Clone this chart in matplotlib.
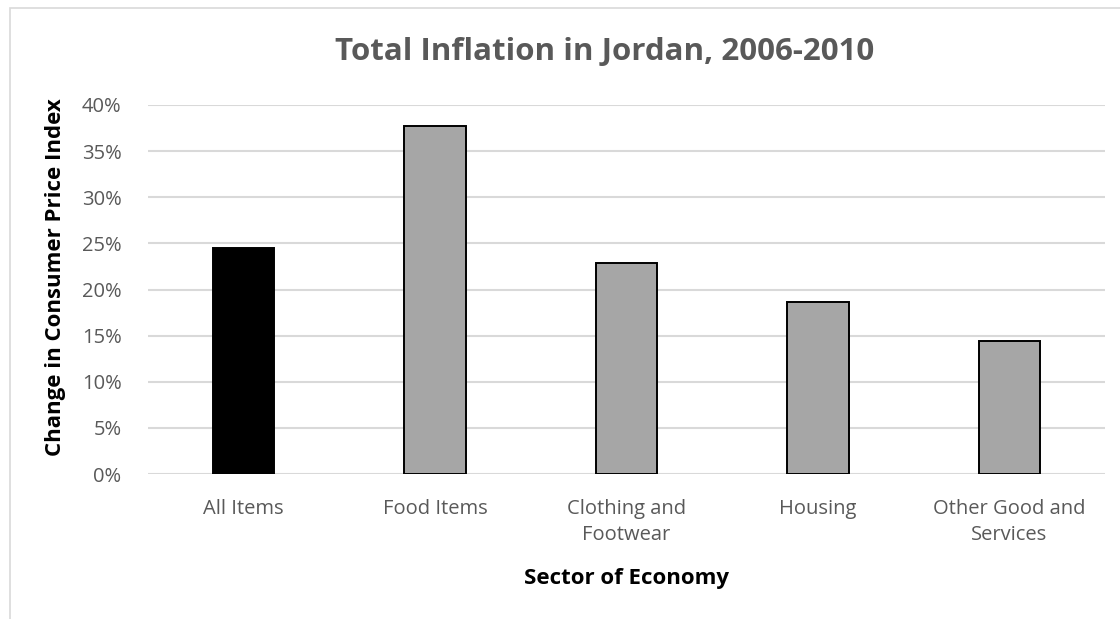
import matplotlib.pyplot as plt
from matplotlib.patches import Rectangle
from matplotlib.ticker import PercentFormatter

plt.rcParams['font.family'] = ['Open Sans', 'DejaVu Sans']

# data
sectors = ['All Items', 'Food Items', 'Clothing and\nFootwear', 'Housing',
           'Other Good and\nServices']
inflation = [24.5, 37.7, 22.9, 18.6, 14.4]
bar_colors = ['#000000', '#A6A6A6', '#A6A6A6', '#A6A6A6', '#A6A6A6']
yticks = [0, 5, 10, 15, 20, 25, 30, 35, 40]

fig = plt.figure(figsize=(11.2, 6.19), dpi=100)
ax = fig.add_axes([148 / 1120, 1 - 474 / 619, (1105 - 148) / 1120, (474 - 105) / 619])

# chart frame (cut off at right/bottom like the screenshot)
fig.patches.append(Rectangle((10 / 1120, -0.1), 1.2, 1 - 8 / 619 + 0.1,
                             transform=fig.transFigure, fill=False,
                             edgecolor='#D9D9D9', linewidth=1.2))

x = range(len(sectors))
ax.bar(x, inflation, width=0.32, color=bar_colors, edgecolor='black',
       linewidth=1.4, zorder=3)

ax.set_xlim(-0.5, len(sectors) - 0.5)
ax.set_ylim(0, 40)
ax.set_yticks(yticks)
ax.yaxis.set_major_formatter(PercentFormatter(decimals=0))
ax.grid(axis='y', color='#D9D9D9', linewidth=1.5, zorder=0)
ax.set_xticks(list(x))
ax.set_xticklabels(sectors, linespacing=1.42)
ax.tick_params(axis='both', length=0, labelsize=14.5, labelcolor='#595959')
ax.tick_params(axis='x', pad=18)
ax.tick_params(axis='y', pad=19)
for s in ax.spines.values():
    s.set_visible(False)

fig.text(605 / 1120, 1 - 52 / 619, 'Total Inflation in Jordan, 2006-2010',
         fontsize=22.5, fontweight='bold', color='#595959',
         ha='center', va='center')
ax.set_xlabel('Sector of Economy', fontsize=16, fontweight='bold', labelpad=16)
ax.set_ylabel('Change in Consumer Price Index', fontsize=16, fontweight='bold')
ax.yaxis.set_label_coords(-0.086, 0.534)

fig.savefig('out.png', dpi=100, facecolor='white')
